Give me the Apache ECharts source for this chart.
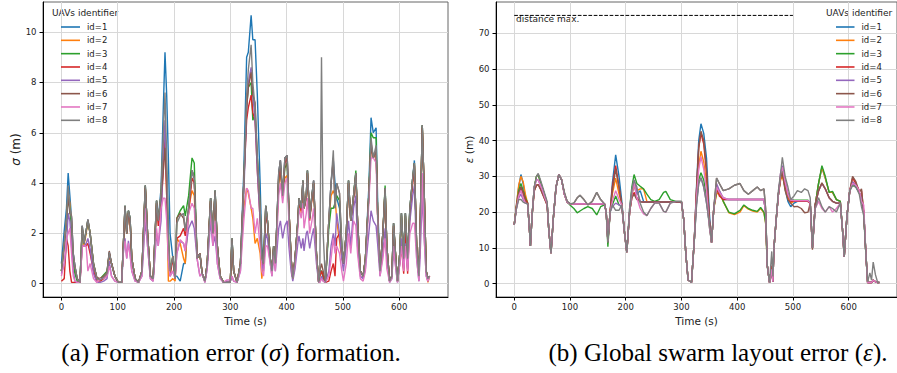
<!DOCTYPE html>
<html>
<head>
<meta charset="utf-8">
<script src="https://cdn.jsdelivr.net/npm/echarts@6/dist/echarts.min.js"></script>
<style>
  html, body { margin: 0; padding: 0; background: #fff; }
  #chart { width: 897px; height: 373px; }
</style>
</head>
<body>
<div id="chart"></div>
<script>
// ---- (a) formation error sigma, sampled times (s)
const timeA = [
  0,5,9,12,15,18,21,24,28,33,
  37,40,44,47,51,57,63,69,75,81,
  85,89,95,101,107,110,113,116,119,122,
  125,131,137,143,149,153,158,163,169,172,
  177,181,184,187,190,193,198,202,205,211,
  217,220,226,232,236,241,246,250,255,259,
  265,269,273,277,282,288,294,300,303,306,
  312,318,324,329,332,337,340,344,348,353,
  356,359,363,366,371,374,377,380,386,389,
  393,397,401,404,408,411,415,420,422,426,
  429,431,435,437,441,445,448,453,457,459,
  462,465,469,475,479,483,486,489,494,498,
  501,506,510,514,519,523,526,531,536,540,
  546,550,554,559,562,566,571,575,578,583,
  587,590,594,597,601,604,608,611,615,619,
  624,627,631,635,637,641,644,648,651,654
];
const sigma1 = [
  0.8,2.1,3.0,4.4,3.5,2.6,1.2,0.7,0.2,0.05,
  2.3,1.6,2.1,2.55,2.0,0.8,0.2,0.15,0.25,0.4,
  1.25,0.8,0.3,0.05,0.05,1.5,3.1,2.0,2.9,2.6,
  1.0,0.2,0.05,0.5,3.9,2.0,0.3,0.2,3.3,2.5,
  3.8,7.0,9.2,7.5,5.0,2.0,1.0,0.3,0.3,0.1,
  0.8,0.8,3.0,4.5,4.2,1.0,1.2,0.4,0.1,0.8,
  3.4,2.0,3.7,1.5,0.3,0.05,0.05,0.05,1.8,0.5,
  0.05,0.8,4.5,9.0,9.2,10.67,9.7,9.7,7.5,4.0,
  1.5,0.8,3.1,2.5,1.0,0.5,1.5,0.8,4.4,4.9,
  3.5,5.0,5.1,3.0,1.0,0.2,1.0,2.5,3.4,3.0,
  4.1,3.0,3.5,4.5,2.6,3.5,4.1,1.2,0.05,0.5,
  0.5,0.2,0.05,2.5,4.0,4.9,4.0,3.4,3.0,1.5,
  0.8,2.0,4.1,2.5,3.5,4.4,2.5,0.5,0.3,1.0,
  3.8,6.6,6.0,6.2,3.0,0.5,2.0,3.8,1.5,0.1,
  0.3,2.4,1.0,0.1,1.2,2.8,1.0,2.8,1.0,3.0,
  4.2,4.9,1.5,0.3,2.0,6.3,4.0,0.5,0.2,0.3
];
const sigma2 = [
  0.5,1.5,2.5,3.6,3.2,2.4,1.0,0.6,0.2,0.05,
  2.2,1.5,2.0,2.5,2.0,0.8,0.2,0.15,0.25,0.4,
  1.2,0.8,0.3,0.05,0.05,1.5,3.0,2.0,2.8,2.5,
  1.0,0.2,0.05,0.5,3.8,2.0,0.3,0.2,3.2,2.5,
  3.5,5.5,6.0,3.5,0.1,0.1,0.2,0.1,1.8,1.6,
  1.0,0.8,3.0,3.7,3.5,1.0,1.2,0.4,0.1,0.8,
  3.3,2.0,3.6,1.5,0.3,0.05,0.05,0.05,1.7,0.5,
  0.05,0.8,3.0,3.8,3.6,3.0,2.6,1.6,1.8,1.2,
  0.2,0.8,3.0,2.5,1.0,0.5,1.5,0.8,4.0,4.5,
  3.5,4.2,4.3,3.0,1.0,0.2,1.0,2.5,3.3,2.8,
  4.0,3.0,3.4,4.4,2.6,3.4,4.0,1.2,0.05,0.3,
  0.5,0.3,0.05,2.5,3.5,3.7,3.5,2.5,1.7,1.0,
  0.8,2.0,4.0,2.5,3.5,4.3,2.5,0.5,0.3,1.0,
  3.5,5.5,5.0,5.3,2.5,0.5,2.0,3.7,1.5,0.1,
  0.3,2.3,1.0,0.1,1.2,2.7,1.0,2.7,1.0,2.9,
  4.1,4.7,1.5,0.3,2.0,6.2,4.0,0.5,0.05,0.3
];
const sigma3 = [
  0.5,1.5,2.4,3.5,3.0,2.2,0.8,0.4,0.1,0.05,
  2.2,1.6,2.1,2.5,2.0,0.8,0.2,0.2,0.35,0.5,
  1.2,0.8,0.3,0.05,0.05,1.5,3.1,2.0,2.9,2.6,
  1.0,0.2,0.05,0.5,3.9,2.0,0.3,0.2,3.3,2.5,
  3.5,5.5,6.0,4.5,2.0,0.5,1.1,0.2,2.6,2.9,
  3.1,2.7,3.5,5.0,4.8,1.0,1.2,0.4,0.1,0.8,
  3.4,2.0,3.7,1.5,0.3,0.05,0.05,0.05,1.8,0.5,
  0.05,0.8,4.0,7.0,7.8,8.0,6.5,6.7,5.0,3.0,
  1.0,0.8,3.1,2.5,1.0,0.5,1.5,0.8,4.2,4.7,
  3.5,4.6,4.8,3.0,1.0,0.2,1.0,2.5,3.4,3.0,
  4.1,3.0,3.5,4.5,2.6,3.5,4.0,1.2,0.05,0.5,
  0.5,0.3,0.05,2.2,3.0,3.0,3.2,3.5,3.3,1.5,
  0.8,2.0,4.1,2.5,3.5,4.5,2.5,0.5,0.3,1.0,
  3.5,6.0,5.8,5.8,2.5,0.5,2.0,3.9,1.5,0.1,
  0.3,2.4,1.0,0.1,1.2,2.8,1.0,2.8,1.0,3.0,
  4.2,4.8,1.5,0.3,2.0,6.3,4.0,0.5,0.2,0.3
];
const sigma4 = [
  0.1,0.2,1.8,1.5,0.5,0.05,0.05,0.05,0.05,0.05,
  1.5,1.5,1.5,1.6,1.2,0.5,0.1,0.1,0.2,0.3,
  1.2,0.8,0.3,0.05,0.05,1.5,3.0,2.0,2.8,2.5,
  1.0,0.2,0.05,0.5,3.8,2.0,0.3,0.2,3.2,2.3,
  3.0,4.5,6.0,3.5,1.5,0.3,1.0,0.2,1.8,1.9,
  2.2,1.9,2.8,4.2,4.0,1.0,1.2,0.4,0.1,0.8,
  3.3,2.0,3.6,1.5,0.3,0.05,0.05,0.05,1.7,0.5,
  0.05,0.8,4.0,6.5,7.0,7.5,6.8,6.5,4.5,2.5,
  0.8,0.6,2.8,2.4,1.0,0.5,1.4,0.8,4.2,4.6,
  3.4,4.8,5.0,3.0,1.0,0.2,1.0,2.4,3.3,2.9,
  4.0,3.0,3.4,4.4,2.5,3.4,4.0,1.2,0.05,0.3,
  0.5,0.3,0.05,0.1,0.5,0.8,0.3,1.8,2.0,1.2,
  0.8,1.9,4.0,2.5,3.4,4.3,2.5,0.5,0.3,1.0,
  3.4,5.6,5.0,5.3,2.5,0.5,2.0,3.7,1.5,0.1,
  0.3,2.3,1.0,0.1,0.8,1.5,0.4,2.0,0.4,2.8,
  4.0,4.7,1.5,0.3,2.0,6.2,4.0,0.5,0.2,0.3
];
const sigma5 = [
  0.4,0.8,1.5,2.8,2.5,1.5,0.5,0.1,0.05,0.05,
  1.5,1.5,1.6,1.8,1.4,0.4,0.05,0.05,0.1,0.2,
  0.9,0.3,0.1,0.05,0.05,1.2,1.8,1.0,1.7,1.2,
  0.5,0.1,0.05,0.3,2.5,1.5,0.2,0.1,2.0,1.5,
  2.5,5.0,6.5,4.0,1.0,0.3,0.5,0.2,1.2,1.7,
  1.6,1.3,2.2,2.5,2.2,1.0,0.3,0.4,0.05,0.6,
  2.5,1.5,1.9,0.8,0.2,0.05,0.1,0.1,0.3,0.1,
  0.05,0.5,3.5,7.0,8.0,8.6,7.5,6.5,4.5,2.5,
  0.8,0.5,2.0,1.8,0.8,0.3,1.2,0.5,2.2,2.5,
  1.8,2.3,2.5,1.5,0.5,0.1,0.6,1.6,1.9,1.4,
  1.8,1.3,2.0,2.1,1.4,1.9,2.2,0.8,0.05,0.05,
  0.3,0.1,0.05,0.5,1.5,2.0,1.5,2.8,2.0,1.0,
  0.5,1.5,2.5,1.5,3.0,3.5,1.5,0.3,0.2,0.6,
  2.0,2.9,2.5,2.3,1.5,0.3,1.2,2.2,1.0,0.05,
  0.2,1.5,0.6,0.05,0.8,1.8,0.6,1.6,0.6,2.5,
  3.5,3.9,1.0,0.1,1.0,3.5,2.0,0.3,0.1,0.3
];
const sigma6 = [
  0.5,1.5,2.5,3.5,2.8,2.7,1.2,0.7,0.2,0.05,
  2.3,1.6,2.1,2.55,2.0,0.8,0.25,0.2,0.3,0.45,
  1.3,0.8,0.3,0.05,0.05,1.5,3.1,2.0,2.9,2.6,
  1.0,0.2,0.05,0.5,3.9,2.0,0.3,0.2,3.3,2.5,
  3.5,4.5,5.4,4.0,1.5,0.5,1.1,0.2,2.6,2.8,
  2.6,2.1,3.0,4.5,4.2,1.0,1.2,0.4,0.1,0.8,
  3.4,2.0,3.7,1.5,0.3,0.05,0.05,0.05,1.8,0.5,
  0.05,0.8,4.0,7.0,7.8,8.4,7.5,7.2,5.0,3.0,
  1.0,0.8,3.1,2.5,1.0,0.5,1.5,0.8,4.4,4.9,
  3.5,5.0,5.1,3.0,1.0,0.2,1.0,2.5,3.4,3.0,
  4.1,3.0,3.5,4.5,2.6,3.5,4.1,1.2,0.05,0.5,
  0.8,0.5,0.05,2.5,4.0,5.0,3.0,4.0,3.6,1.5,
  0.8,2.0,4.1,2.5,3.5,4.4,2.5,0.5,0.3,1.0,
  3.5,5.5,5.0,5.3,2.5,0.5,2.0,3.8,1.5,0.1,
  0.3,2.4,1.0,0.1,1.2,2.8,1.0,2.8,1.0,3.0,
  4.2,4.8,1.5,0.3,2.0,6.3,4.0,0.5,0.2,0.3
];
const sigma7 = [
  0.3,0.8,1.8,2.0,2.2,1.2,0.3,0.1,0.05,0.05,
  1.5,1.5,1.5,0.5,0.8,0.2,0.05,0.2,0.2,0.3,
  0.7,0.3,0.1,0.05,0.05,1.3,1.7,1.0,1.6,1.1,
  0.5,0.1,0.05,0.3,3.0,1.5,0.2,0.1,2.2,1.5,
  3.0,3.4,3.4,2.5,1.0,0.3,0.5,0.2,1.2,1.75,
  1.6,1.3,2.8,3.2,3.0,1.0,0.3,0.4,0.05,0.6,
  3.0,1.5,2.5,0.8,0.2,0.05,0.15,0.15,0.3,0.1,
  0.05,0.5,2.5,3.8,3.7,3.0,3.0,2.0,2.6,1.5,
  0.5,0.3,1.5,1.5,0.8,0.3,1.2,0.5,3.5,4.0,
  3.2,4.0,4.2,2.5,0.8,0.2,0.8,2.2,3.0,2.6,
  3.2,2.2,2.8,3.4,2.0,2.5,3.0,1.0,0.05,0.05,
  0.2,0.1,0.05,0.3,1.0,1.8,1.2,1.5,1.2,0.5,
  0.1,0.8,2.0,1.2,2.5,2.3,1.2,0.2,0.1,0.5,
  3.2,5.0,5.0,4.8,2.3,0.3,1.0,1.8,0.6,0.05,
  0.2,1.5,0.6,0.05,0.8,1.5,0.5,1.5,0.5,2.0,
  2.4,2.4,1.0,0.1,1.5,4.4,2.0,0.3,0.1,0.3
];
const sigma8 = [
  0.5,1.6,2.5,3.9,3.0,2.6,1.2,0.7,0.2,0.05,
  2.3,1.6,2.1,2.55,2.0,0.8,0.2,0.15,0.25,0.4,
  1.25,0.8,0.3,0.05,0.05,1.5,3.1,2.0,2.9,2.6,
  1.0,0.2,0.05,0.5,3.9,2.0,0.3,0.2,3.3,2.5,
  3.6,6.0,7.6,5.0,2.0,0.5,1.1,0.2,2.4,2.7,
  2.8,2.1,3.0,4.5,4.2,1.0,1.2,0.4,0.1,0.8,
  3.4,2.0,3.7,1.5,0.3,0.05,0.05,0.05,1.8,0.5,
  0.05,0.8,4.0,7.5,8.5,9.5,8.0,7.0,5.0,3.0,
  1.0,0.8,3.1,2.5,1.0,0.5,1.5,0.8,4.4,4.9,
  3.5,5.0,5.1,3.0,1.0,0.2,1.0,2.5,3.4,3.0,
  4.1,3.0,3.5,4.5,2.6,3.5,4.1,1.2,0.05,0.5,
  9.0,2.0,0.05,2.5,4.0,5.3,3.0,4.0,3.6,1.5,
  0.8,2.0,4.1,2.5,3.5,4.4,2.5,0.5,0.3,1.0,
  3.5,5.8,5.0,5.5,2.5,0.5,2.0,3.8,1.5,0.1,
  0.3,2.4,1.0,0.1,1.2,2.8,1.0,2.8,1.0,3.0,
  4.2,4.8,1.5,0.3,2.0,6.3,4.0,0.5,0.2,0.3
];

// ---- (b) global swarm layout error epsilon, sampled times (s)
const timeB = [
  0,4,8,12,16,20,24,27,29,32,
  36,40,43,47,51,55,59,62,66,70,
  75,80,85,90,95,100,107,113,118,125,
  132,140,148,155,162,165,168,172,176,182,
  188,193,198,202,207,211,215,220,226,232,
  238,245,252,260,268,272,280,290,300,304,
  308,312,318,323,327,331,335,340,345,350,
  354,358,363,368,375,385,395,405,412,420,
  428,436,442,448,451,454,458,462,464,466,
  470,474,478,481,486,491,496,502,508,515,
  521,527,531,535,540,546,552,558,565,571,
  578,585,589,592,597,602,607,613,619,623,
  627,631,634,638,641,644,648,652,655
];
const eps1 = [
  16.5,22,27,30.5,28,24,22.5,16,10.5,19,
  27,30,30.5,28.5,26.5,24.5,22.5,15,8.5,18,
  27,30.5,29,25,22.8,22.3,22.3,22.3,22.3,22.3,
  22.3,22.3,22.3,22.3,22.3,20,12,20,28,36,
  30,23,14,8.8,20,25,27.5,25,26,23,
  22.8,22.8,22.8,22.8,22.8,22.8,22.8,22.8,22.8,18,
  8,1,0.3,12,27,40,44.7,42,35,20,
  11.5,21,27,25,23.5,23.5,23.5,23.5,23.5,23.5,
  23.5,23.5,23.5,23.5,20,5,0.3,4,0.5,10,
  18,25,30,31.5,26.5,23,21.5,22.5,23,23,
  23,23,22.5,10,22,28,32.5,29.5,25.5,25.5,
  23.5,23,15,7.5,19,26,28,27,25.5,24,
  20,8,0.3,0.3,0.3,1,0.5,0.3,0.3
];
const eps2 = [
  16.5,22,27.5,30,28.5,25,22.5,16,10.5,19,
  27,30,30.5,28.5,26.5,24.5,22.5,15,8.5,18,
  27,30.5,29,25,22.8,22.3,22.3,22.3,22.3,22.3,
  22.3,22.3,22.3,22.3,22.3,20,12,20,25,29.5,
  25,22,14,8.8,20,25,27.5,26,26.5,26.5,
  23,22.8,22.8,22.8,22.8,22.8,22.8,22.8,22.8,18,
  8,1,0.3,12,25,33,37,34,28,17,
  11.5,21,25,25.5,23,19.8,19.3,20,21.8,20.8,
  20.3,20,21,19.8,17,5,0.3,4,0.5,10,
  18,25,29,30,27,24,22.5,23,23,23,
  23,23,22.5,10,22,28,32.5,29.5,25.5,25.5,
  23.5,23,15,7.5,19,26,28.5,27.5,25.5,24,
  20,8,0.3,0.3,0.3,1,0.5,0.3,0.3
];
const eps3 = [
  16.5,21.5,26,28,26,24,22.5,16,10.5,19,
  27,30,30.5,28.5,26.5,24.5,22.5,15,8.5,18,
  27,30.5,29,25,22.8,22,21,19.8,20.3,21,
  21.5,21,19.2,21.5,22,20,10.3,20,22,24.5,
  22,21.5,14,8.8,21,27,30.5,28,27.2,26.5,
  25,23.5,23,23.5,25.5,25.8,23.5,23,23,18,
  8,1,0.3,12,23,29,31,29,24,16,
  11.5,21,25.5,26,23,20,19.5,20.5,22,21,
  20.5,20.2,21.3,20,17,5,0.3,4,0.5,10,
  18,25,30,31.5,27.5,25,23.5,23.3,23.3,23.3,
  23.3,23.3,22.5,10,22,28,33,30,25.5,25.8,
  23.5,23,15,7.5,19,26,27.5,27,25.5,24,
  20,8,0.3,0.3,0.3,1,0.5,0.3,0.3
];
const eps4 = [
  16.5,21.5,25,27,25.5,23.5,22.5,16,10.5,19,
  26,27.5,27.7,26.5,25,23.5,22,15,8.5,18,
  27,30.5,29,25,22.8,22.3,22.3,22.3,22.3,22.3,
  22.3,22.3,22.3,22.3,22.3,20,12,20,27,33,
  27,22,14,8.8,20,24,25.5,24,23,22.8,
  22.8,22.8,22.8,22.8,22.8,22.8,22.8,22.8,22.8,18,
  8,1,0.3,12,26,38,42,39,31,18,
  11.5,21,27,24.5,23.5,23.5,23.5,23.5,23.5,23.5,
  23.5,23.5,23.5,23.5,20,5,0.3,5,0.5,10,
  18,25,30,31,27.5,25,23,23,23,23,
  23,23,22.5,10,22,26,28,26.5,24,23,
  22.5,22.5,15,7.5,19,26,29.5,28,26,26,
  20,8,0.3,0.3,0.3,1,0.5,0.3,0.3
];
const eps5 = [
  16.5,21,24,25,23.5,22.5,22.3,16,10.5,19,
  27,29,29,27.5,26,24,22.5,15,8.5,18,
  27,30.5,29,25,22.8,22.3,22.3,22.3,22.3,22.3,
  22.3,22.3,22.3,22.3,22.3,20,12,20,21.5,22.5,
  22,21.5,14,8.8,21,26,29,26,23,22.8,
  22.8,22.8,22.8,22.8,22.8,22.8,22.8,22.8,22.8,18,
  8,1,0.3,12,22,28,29.6,27,22.5,17,
  11.5,21,28,26,24,23.5,23.5,23.5,23.5,23.5,
  23.5,23.5,23.5,23.5,20,5,0.3,4,0.5,10,
  18,25,31,33,29,25,23.5,23.2,23.2,23.2,
  23.2,23.2,22.5,10,22,26,28,26.5,24,23,
  22.5,22.5,15,7.5,19,26,28.5,27.5,25.5,24,
  20,8,0.3,0.3,0.3,1,0.5,0.3,0.3
];
const eps6 = [
  16.5,21.5,25,27,25,23,22.3,16,10.5,19,
  26,27.5,27.7,26.5,25,23.5,22,15,8.5,18,
  27,30.5,29,25.5,23,22.3,22.5,24,24.7,23.5,
  22,23,25.5,23.5,22.3,20,11.5,20,26,32,
  27,22,14,8.8,20,24,25,23.5,22.8,22.8,
  22.8,22.8,22.8,22.8,22.8,22.8,22.8,22.8,22.8,18,
  8,1,0.3,12,26,38,42.6,40,32,18,
  11.5,21,29.5,28,26,26.5,27.5,28,26,25,
  26,27,26,26.5,21,5,0.3,4,0.5,10,
  18,25,30,31,26,23.5,22.5,21.5,21.6,21,
  19.8,20,22.5,9.5,22,26,28.2,26.5,24,23,
  22.5,22.5,15,7.5,19,26,30,28.5,25.5,26.5,
  20,8,0.3,0.3,0.3,1,0.5,0.3,0.3
];
const eps7 = [
  16.5,21,24.5,26,24,22.5,22.3,16,10.5,19,
  27,29,29,27.5,26,24,22.5,15,8.5,18,
  27,30.5,29,25,22.8,22.3,22.3,22.3,22.3,22.3,
  22.3,22.3,22.3,22.3,22.3,20,12,20,23,26,
  23.5,22,14,8.8,20,25,28,24,21,19.5,
  19,21,22.5,22.5,20.2,20,22.5,23,23,18,
  8,1,0.3,12,24,32,35.5,32,26,16,
  11.5,21,27,25.5,24,23.5,23.5,23.5,23.5,23.5,
  23.5,23.5,23.5,23.5,20,5,0.3,4,0.5,10,
  18,25,31,32.5,28.5,25,23.3,23.2,23.2,23.2,
  23.2,23.2,22.5,10,21,23,21,20,21.5,20,
  21,22.5,15,7.5,19,26,28,27.5,26,23,
  22,8,0.3,0.3,0.3,1,0.5,0.3,0.3
];
const eps8 = [
  16.5,21,23.5,23.5,22.8,22.5,22.3,16,10.5,19,
  27,30,30.8,29,27,25,23,15,8.5,18,
  27,30.5,29,25.5,23,22.3,22.5,24,24.7,23.5,
  22,23,25.5,23.5,22.3,20,11.5,20,22,20.5,
  20.5,22,14,8.8,20,26,29,27,22.5,20,
  19,21,22.5,22.5,20.2,20,22.5,23,23,18,
  8,1,0.3,12,22,28,29.6,27,22.5,17,
  11.5,21,29.5,28,26,26.5,27.5,28,26,25,
  26,27,26,26.5,21,5,0.3,9,2,10,
  18,26,31,35.3,30,27,23.5,24.5,26,25.5,
  26.5,26,24,10,21,24,21.5,20,21.5,21,
  20,22.5,15,7.5,19,26,27.5,27,25,21.5,
  19,8,0.5,3,1,6,2.5,0.3,0.3
];

const ids = ['id=1', 'id=2', 'id=3', 'id=4', 'id=5', 'id=6', 'id=7', 'id=8'];
const colors = ['#1f77b4', '#ff7f0e', '#2ca02c', '#d62728', '#9467bd', '#8c564b', '#e377c2', '#7f7f7f'];
const timeTicks = [0, 100, 200, 300, 400, 500, 600];
const sigmaTicks = [0, 2, 4, 6, 8, 10];
const epsTicks = [0, 10, 20, 30, 40, 50, 60, 70];
const distanceMax = 75;
const distanceMaxTimes = [0, 500];

const sigmaAll = [sigma1, sigma2, sigma3, sigma4, sigma5, sigma6, sigma7, sigma8];
const epsAll = [eps1, eps2, eps3, eps4, eps5, eps6, eps7, eps8];

const FONT = 'DejaVu Sans';
const SERIF = 'Liberation Serif';
const INK = '#222';

const chart = echarts.init(document.getElementById('chart'), null, { renderer: 'svg' });

// 时间轴
function timeAxis(gridIndex) {
  return {
    type: 'value',
    gridIndex,
    min: -32.7,
    max: 686.7,
    name: 'Time (s)',
    nameLocation: 'middle',
    nameGap: 17,
    nameTextStyle: { fontSize: 10.5, color: INK, fontFamily: FONT },
    axisLine: { show: true, onZero: false, lineStyle: { color: '#000', width: 1 } },
    axisTick: { show: true, length: 3.5, customValues: timeTicks, lineStyle: { color: '#000' } },
    axisLabel: { customValues: timeTicks, fontSize: 8.5, color: INK, margin: 5, fontFamily: FONT },
    splitLine: { show: true, lineStyle: { color: '#d8d8d8', width: 1 } },
  };
}

function valueAxis(gridIndex, min, max, ticks, name, nameSize, nameGap) {
  return {
    type: 'value',
    gridIndex,
    min,
    max,
    name,
    nameLocation: 'middle',
    nameGap,
    nameTextStyle: {
      fontSize: nameSize, color: INK, fontFamily: FONT,
      rich: { i: { fontSize: nameSize, fontStyle: 'italic', color: INK, fontFamily: FONT } },
    },
    axisLine: { show: true, onZero: false, lineStyle: { color: '#000', width: 1 } },
    axisTick: { show: true, length: 3.5, customValues: ticks, lineStyle: { color: '#000' } },
    axisLabel: { customValues: ticks, fontSize: 8.5, color: INK, margin: 6.5, fontFamily: FONT },
    splitLine: { show: true, lineStyle: { color: '#d8d8d8', width: 1 } },
  };
}

function lineSeries(axisIndex, times, values, k) {
  return {
    type: 'line',
    name: ids[k],
    xAxisIndex: axisIndex,
    yAxisIndex: axisIndex,
    data: times.map((t, i) => [t, values[i]]),
    showSymbol: false,
    symbol: 'none',
    color: colors[k],
    lineStyle: { width: 1.4, color: colors[k] },
    z: 2 + k * 0.01,
  };
}

// 图例: 只画线段, 不画圆点
function legendAt(left, width) {
  return {
    orient: 'vertical',
    left,
    top: 22,
    data: ids.map((name) => ({ name, icon: 'rect' })),
    selectedMode: false,
    itemWidth: width,
    itemHeight: 1.6,
    itemGap: 3.33,
    padding: 0,
    textStyle: { fontSize: 8.5, color: INK, fontFamily: FONT, lineHeight: 10, padding: [0, 0, 0, 2] },
  };
}

// 图注
function caption(x, text) {
  const r = { fontSize: 25, fontFamily: SERIF, fill: '#000' };
  return {
    type: 'text',
    x,
    y: 352,
    style: {
      text,
      fontSize: 25,
      fontFamily: SERIF,
      fill: '#000',
      align: 'center',
      verticalAlign: 'middle',
      rich: { r, i: Object.assign({}, r, { fontStyle: 'italic' }) },
    },
  };
}

const series = [];
sigmaAll.forEach((v, k) => series.push(lineSeries(0, timeA, v, k)));
epsAll.forEach((v, k) => series.push(lineSeries(1, timeB, v, k)));
series.push({
  type: 'line',
  name: 'distance max.',
  xAxisIndex: 1,
  yAxisIndex: 1,
  data: distanceMaxTimes.map((t) => [t, distanceMax]),
  symbol: 'none',
  lineStyle: { color: '#000', width: 1, type: [3.7, 1.6] },
  z: 3,
});

const option = {
  animation: false,
  backgroundColor: '#fff',
  grid: [
    { left: 43, top: 2, right: 449, bottom: 76, show: true, borderColor: '#666', borderWidth: 1 },
    { left: 496, top: 2, right: -4, bottom: 76, show: true, borderColor: '#666', borderWidth: 1 },
  ],
  xAxis: [timeAxis(0), timeAxis(1)],
  yAxis: [
    valueAxis(0, -0.53, 11.2, sigmaTicks, '{i|σ} (m)', 12, 20),
    valueAxis(1, -3.75, 78.75, epsTicks, '{i|ε} (m)', 10.5, 21),
  ],
  legend: [legendAt(61, 19), legendAt(836, 18.5)],
  graphic: [
    { type: 'text', left: 52, top: 8, style: { text: 'UAVs identifier', fontSize: 9, fontFamily: FONT, fill: INK } },
    { type: 'text', left: 826, top: 8, style: { text: 'UAVs identifier', fontSize: 9, fontFamily: FONT, fill: INK } },
    { type: 'text', left: 516, top: 14, style: { text: 'distance max.', fontSize: 9, fontFamily: FONT, fill: INK } },
    caption(231, '{r|(a) Formation error (}{i|σ}{r|) formation.}'),
    caption(718, '{r|(b) Global swarm layout error (}{i|ε}{r|).}'),
  ],
  series,
};

chart.setOption(option);
</script>
</body>
</html>
